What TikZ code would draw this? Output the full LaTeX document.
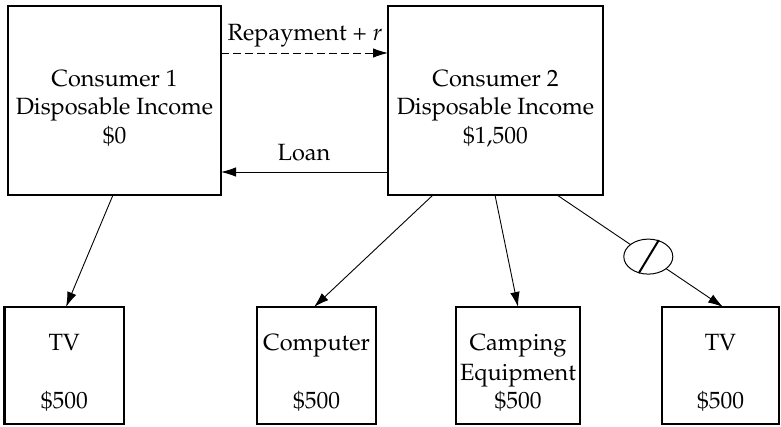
\documentclass[tikz,border=0pt]{standalone}
\usepackage[T1]{fontenc}
\usepackage{mathpazo}
\usetikzlibrary{arrows.meta,shapes.geometric}
\begin{document}
\begin{tikzpicture}[x=1pt,y=-1pt,
  box/.style={draw,line width=2.2pt,inner sep=0pt,outer sep=0pt},
  txt/.style={font=\fontsize{23.5}{28.5}\selectfont,inner sep=0pt,anchor=base},
  arr/.style={line width=0.9pt,-{Latex[length=15pt,width=9.5pt]}},
  blocked/.style={draw,ellipse,fill=white,line width=1pt,inner sep=0pt,minimum width=49pt,minimum height=35pt},
]
\useasboundingbox (0,0) rectangle (781,426);
% top boxes
\node[box,minimum width=213pt,minimum height=189pt] (c1) at (114.5,100.5) {};
\node[box,minimum width=215pt,minimum height=189pt] (c2) at (495.5,100.5) {};
% bottom boxes
\node[box,minimum width=119.5pt,minimum height=117pt] (tv1) at (64.25,365.5) {};
\node[box,minimum width=119pt,minimum height=117pt] (comp) at (316.5,365.5) {};
\node[box,minimum width=124pt,minimum height=117pt] (camp) at (518,365.5) {};
\node[box,minimum width=117pt,minimum height=117pt] (tv2) at (720.5,365.5) {};
% top texts
\node[txt] (c1a) at (114.5,86) {Consumer 1};
\node[txt] (c1b) at (114.5,114.5) {Disposable Income};
\node[txt] (c1c) at (114.5,143) {\$0};
\node[txt] (c2a) at (495.5,86) {Consumer 2};
\node[txt] (c2b) at (495.5,114.5) {Disposable Income};
\node[txt] (c2c) at (495.5,143) {\$1,500};
% bottom texts
\node[txt] (tv1a) at (64.25,350.5) {TV};
\node[txt] (tv1b) at (64.25,408) {\$500};
\node[txt] (compa) at (316.5,350.5) {Computer};
\node[txt] (compb) at (316.5,408) {\$500};
\node[txt] (campa) at (518,350.5) {Camping};
\node[txt] (campb) at (518,380) {Equipment};
\node[txt] (campc) at (518,408) {\$500};
\node[txt] (tv2a) at (720.5,350.5) {TV};
\node[txt] (tv2b) at (720.5,408) {\$500};
% loan flows
\draw[arr,dash pattern=on 7.5pt off 4.5pt] ([yshift=47.5pt]c1.east) -- ([yshift=47.5pt]c2.west);
\node[txt] (rep) at (305,40.5) {Repayment + $r$};
\draw[arr] ([yshift=-71.5pt]c2.west) -- ([yshift=-71.5pt]c1.east);
\node[txt] (loan) at (304,160.5) {Loan};
% spending arrows
\draw[arr] ([xshift=-1.5pt]c1.south) -- ([xshift=1.75pt]tv1.north);
\draw[arr] ([xshift=-62.5pt]c2.south) -- ([xshift=-2.5pt]comp.north);
\draw[arr] ([xshift=-0.5pt]c2.south) -- (camp.north);
\draw[arr] ([xshift=61.5pt]c2.south) -- node[blocked,pos=0.55] (bl) {} ([xshift=2.5pt]tv2.north);
\draw[line width=2pt] ([xshift=-9.5pt,yshift=-16.5pt]bl.center) -- ([xshift=10.5pt,yshift=16.5pt]bl.center);
\end{tikzpicture}
\end{document}
